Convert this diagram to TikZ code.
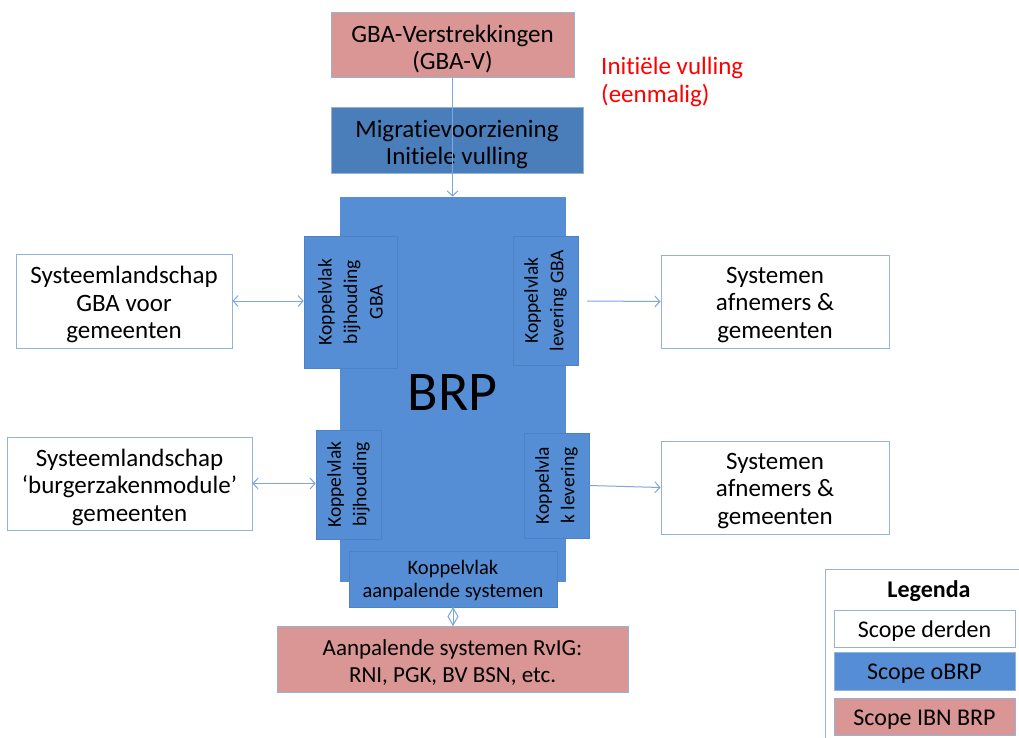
\documentclass[tikz,border=0pt]{standalone}
\usepackage{fontspec}
\setmainfont{Carlito}[Ligatures=NoCommon]
\usetikzlibrary{arrows.meta}
\definecolor{pinkf}{HTML}{D99694}
\definecolor{brpf}{HTML}{558ED5}
\definecolor{migf}{HTML}{4A7EBB}
\definecolor{edgeb}{HTML}{95B3D7}
\definecolor{kvedge}{HTML}{4A7EBB}
\definecolor{conn}{HTML}{7EA6E0}
\begin{document}
\begin{tikzpicture}[x=1pt,y=-1pt,
  box/.style={draw=edgeb, line width=1pt, inner sep=0pt},
  pinkbox/.style={box, fill=pinkf},
  whitebox/.style={box, fill=white},
  brpbox/.style={box, fill=brpf, draw=brpf},
  migbox/.style={box, fill=migf, draw=edgeb},
  kvbox/.style={inner sep=0pt, fill=brpf, draw=kvedge!70!brpf, line width=0.6pt},
  txt/.style={align=center, inner sep=0pt, text=black, yshift=-3.5pt},
  conn/.style={draw=conn, line width=1pt},
  tip/.style={-{Straight Barb[length=5pt,width=11pt]}},
  dtip/.style={{Straight Barb[length=5pt,width=11pt]}-{Straight Barb[length=5pt,width=11pt]}},
  bigtxt/.style={txt, font=\fontsize{25}{27.5}\selectfont},
  kvtxt/.style={align=center, inner sep=0pt, font=\fontsize{19.5}{25.5}\selectfont},
  legtxt/.style={txt, yshift=0.5pt, font=\fontsize{24}{26}\selectfont},
]
\useasboundingbox (0,0) rectangle (1019,738);
\fill[white] (0,0) rectangle (1019,738);

% top boxes
\node[pinkbox, minimum width=243pt, minimum height=65pt] (gbav) at (452.5,45.5) {};
\node[bigtxt] (gbavt) at (gbav.center) {GBA-Verstrekkingen\\(GBA-V)};
\node[migbox, minimum width=252pt, minimum height=66pt] (migr) at (457,141) {};
\node[bigtxt] (migrt) at (migr.center) {Migratievoorziening\\Initiele vulling};
\node[anchor=west, inner sep=0pt, align=left, text=red, font=\fontsize{25}{28}\selectfont] (init) at (601,81.5) {Initiële vulling\\(eenmalig)};

% BRP core
\node[brpbox, minimum width=225pt, minimum height=384pt] (brp) at (452.5,389) {};
\node[font=\fontsize{56}{56}\selectfont] (brplbl) at (452.5,393) {BRP};

\node[kvbox, minimum width=93pt, minimum height=132pt] (kvb1) at (350.5,302) {};
\node[kvtxt, rotate=90] (kvb1t) at (kvb1.center) {Koppelvlak\\bijhouding\\GBA};
\node[kvbox, minimum width=65pt, minimum height=129pt] (kvl1) at (545.5,300.5) {};
\node[kvtxt, rotate=90] (kvl1t) at (kvl1.center) {Koppelvlak\\levering GBA};
\node[kvbox, minimum width=65pt, minimum height=109pt] (kvb2) at (348.5,484.5) {};
\node[kvtxt, rotate=90] (kvb2t) at (kvb2.center) {Koppelvlak\\bijhouding};
\node[kvbox, minimum width=65pt, minimum height=105pt] (kvl2) at (556.5,485.5) {};
\node[kvtxt, rotate=90] (kvl2t) at (kvl2.center) {Koppelvla\\k levering};
\node[kvbox, minimum width=208pt, minimum height=56pt] (kva) at (453,579) {};
\node[txt, yshift=2pt, font=\fontsize{20.5}{23}\selectfont] (kvat) at (kva.center) {Koppelvlak\\aanpalende systemen};

% outer systems
\node[whitebox, minimum width=216pt, minimum height=94pt] (sys1) at (124,301) {};
\node[bigtxt] (sys1t) at (sys1.center) {Systeemlandschap\\GBA voor\\gemeenten};
\node[whitebox, minimum width=228pt, minimum height=93pt] (afn1) at (775,301.5) {};
\node[bigtxt] (afn1t) at (afn1.center) {Systemen\\afnemers \&\\gemeenten};
\node[whitebox, minimum width=245pt, minimum height=93pt] (sys2) at (129.5,483.5) {};
\node[bigtxt] (sys2t) at (sys2.center) {Systeemlandschap\\‘burgerzakenmodule’\\gemeenten};
\node[whitebox, minimum width=228pt, minimum height=93pt] (afn2) at (775,487.5) {};
\node[bigtxt] (afn2t) at (afn2.center) {Systemen\\afnemers \&\\gemeenten};
\node[pinkbox, minimum width=351pt, minimum height=66pt] (rvig) at (452.5,659) {};
\node[txt, font=\fontsize{23}{27.5}\selectfont] (rvigt) at (rvig.center) {Aanpalende systemen RvIG:\\RNI, PGK, BV BSN, etc.};

% connectors
\draw[conn, tip] (gbav.south -| brp.north) -- (brp.north);
\coordinate (s1) at (587,301);
\draw[conn, tip] (s1) -- (afn1.west);
\draw[conn, dtip] (sys1.east) -- (sys1.east -| kvb1.west);
\draw[conn, dtip] (sys2.east) -- (sys2.east -| kvb2.west);
\draw[conn, tip] (kvl2.east) -- (afn2.west);
\draw[conn] (kva.south) -- (rvig.north);
\draw[conn, fill=white] (453,608) -- (458,616.5) -- (453,625) -- (448,616.5) -- cycle;
\draw[conn] (453,608) -- (453,625);

% legend
\draw[edgeb, line width=1pt, fill=white] (825,569) rectangle (1024,744);
\node[txt, yshift=1.5pt, font=\bfseries\fontsize{24}{26}\selectfont] (legt) at (929,589) {Legenda};
\node[whitebox, minimum width=181pt, minimum height=37pt] (l1) at (924.5,628.5) {};
\node[legtxt] (l1t) at (l1.center) {Scope derden};
\node[brpbox, draw=edgeb, minimum width=181pt, minimum height=38pt] (l2) at (924.5,671) {};
\node[legtxt] (l2t) at (l2.center) {Scope oBRP};
\node[pinkbox, minimum width=181pt, minimum height=37pt] (l3) at (924.5,716.5) {};
\node[legtxt] (l3t) at (l3.center) {Scope IBN BRP};
\end{tikzpicture}
\end{document}
